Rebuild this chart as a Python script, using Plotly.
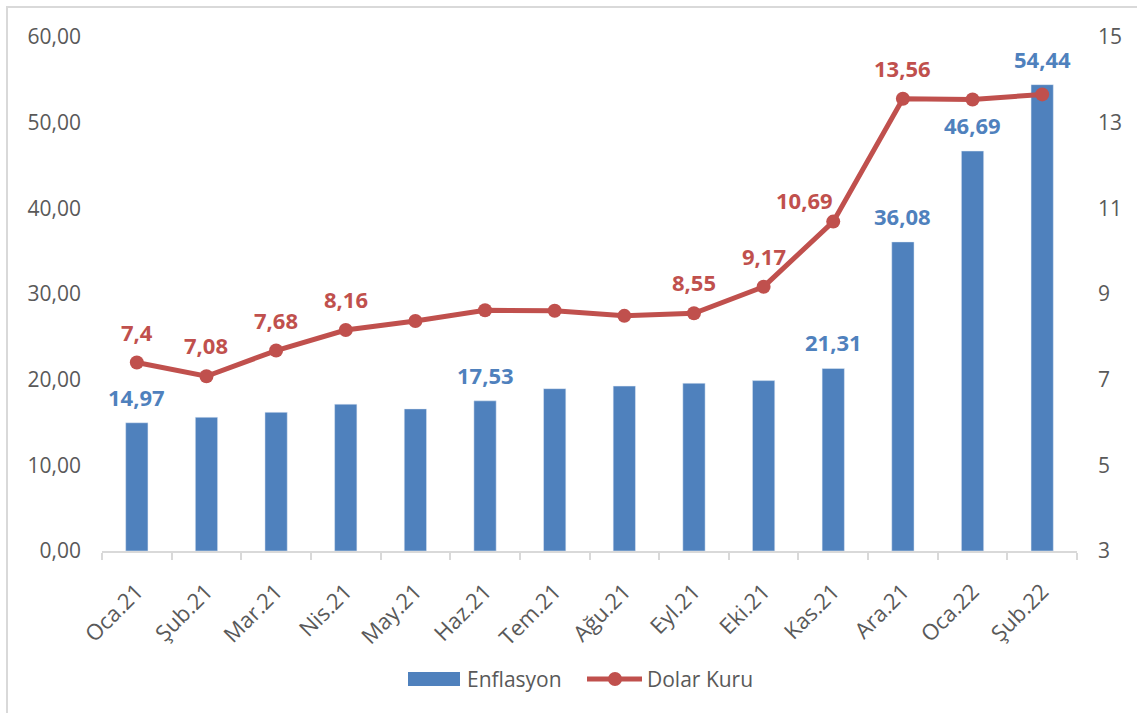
import plotly.graph_objects as go

months = ["Oca.21", "Şub.21", "Mar.21", "Nis.21", "May.21", "Haz.21", "Tem.21",
          "Ağu.21", "Eyl.21", "Eki.21", "Kas.21", "Ara.21", "Oca.22", "Şub.22"]
enflasyon = [14.97, 15.61, 16.19, 17.14, 16.59, 17.53, 18.95, 19.25, 19.58, 19.89,
             21.31, 36.08, 46.69, 54.44]
dolar = [7.40, 7.08, 7.68, 8.16, 8.37, 8.62, 8.61, 8.49, 8.55, 9.17, 10.69, 13.56,
         13.54, 13.66]
enf_label_idx = [0, 5, 10, 11, 12, 13]
dolar_label_idx = [0, 1, 2, 3, 8, 9, 10, 11]
dolar_label_text = {0: "7,4"}
series_names = ["Enflasyon", "Dolar Kuru"]

BLUE = "#4F81BD"
RED = "#C0504D"
GRAY = "#595959"
FONT = "Open Sans"

L, R, T, B = 102, 60, 37, 162
W, H = 1137, 713
pw, ph = W - L - R, H - T - B

def px(x):
    return (x - L) / pw

def py(y):
    return (H - B - y) / ph

fig = go.Figure()
fig.add_trace(go.Bar(x=months, y=enflasyon, name=series_names[0], marker_color=BLUE,
                     width=0.32, yaxis="y", showlegend=False))
fig.add_trace(go.Scatter(x=months, y=dolar, name=series_names[1], mode="lines+markers",
                         line=dict(color=RED, width=5), marker=dict(size=14, color=RED),
                         yaxis="y2", showlegend=False))

def fmt(v):
    return f"{v:.2f}".replace(".", ",")

ann = []
for i in enf_label_idx:
    ann.append(dict(x=months[i], y=enflasyon[i], xref="x", yref="y", text=fmt(enflasyon[i]),
                    showarrow=False, yshift=26, font=dict(family=FONT, size=22, color=BLUE, weight="bold")))
for i in dolar_label_idx:
    xs, ys = 0, 31
    if i == 10:
        xs, ys = -29, 22
    ann.append(dict(x=months[i], y=dolar[i], xref="x", yref="y2",
                    text=dolar_label_text.get(i, fmt(dolar[i])),
                    showarrow=False, yshift=ys, xshift=xs,
                    font=dict(family=FONT, size=22, color=RED, weight="bold")))

# Excel-style legend (drawn in paper coordinates)
leg_y = 679
ann.append(dict(x=px(465), y=py(leg_y), xref="paper", yref="paper", text=series_names[0],
                showarrow=False, xanchor="left", yanchor="middle",
                font=dict(family=FONT, size=21, color=GRAY)))
ann.append(dict(x=px(645), y=py(leg_y), xref="paper", yref="paper", text=series_names[1],
                showarrow=False, xanchor="left", yanchor="middle",
                font=dict(family=FONT, size=21, color=GRAY)))
shapes = [
    dict(type="rect", xref="paper", yref="paper", x0=px(408), x1=px(460),
         y0=py(686), y1=py(672), fillcolor=BLUE, line=dict(width=0)),
    dict(type="line", xref="paper", yref="paper", x0=px(587), x1=px(642),
         y0=py(leg_y), y1=py(leg_y), line=dict(color=RED, width=5)),
    dict(type="circle", xref="paper", yref="paper", x0=px(608), x1=px(622),
         y0=py(leg_y + 7), y1=py(leg_y - 7), fillcolor=RED, line=dict(width=0)),
    # chart area border
    dict(type="rect", xref="paper", yref="paper", x0=px(7), x1=px(W + 20),
         y0=py(H + 20), y1=py(7), line=dict(color="#D9D9D9", width=2),
         fillcolor="rgba(0,0,0,0)", layer="below"),
]

fig.update_layout(
    width=W, height=H,
    margin=dict(l=L, r=R, t=T, b=B),
    paper_bgcolor="white", plot_bgcolor="white",
    separators=", ",
    font=dict(family=FONT, size=21, color=GRAY),
    annotations=ann,
    shapes=shapes,
    showlegend=False,
    xaxis=dict(type="category", showline=True, linecolor="#D9D9D9", linewidth=2,
               ticks="outside", tickson="boundaries", ticklen=7, tickcolor="#D9D9D9", tickwidth=2,
               tickangle=-45, tickfont=dict(family=FONT, size=22, color=GRAY),
               ticklabelstandoff=17, showgrid=False, range=[-0.5, 13.5]),
    yaxis=dict(range=[0, 60], dtick=10, tickformat=".2f", showgrid=False, zeroline=False,
               showline=False, ticks="", ticklabelstandoff=20,
               tickfont=dict(family=FONT, size=21, color=GRAY)),
    yaxis2=dict(range=[3, 15], tickvals=[3, 5, 7, 9, 11, 13, 15], overlaying="y", side="right",
                showgrid=False, zeroline=False, showline=False, ticks="", ticklabelstandoff=20,
                tickfont=dict(family=FONT, size=21, color=GRAY)),
)

fig.write_html("out.html", config={"displayModeBar": False},
               post_script="document.body.style.margin='0px';")
